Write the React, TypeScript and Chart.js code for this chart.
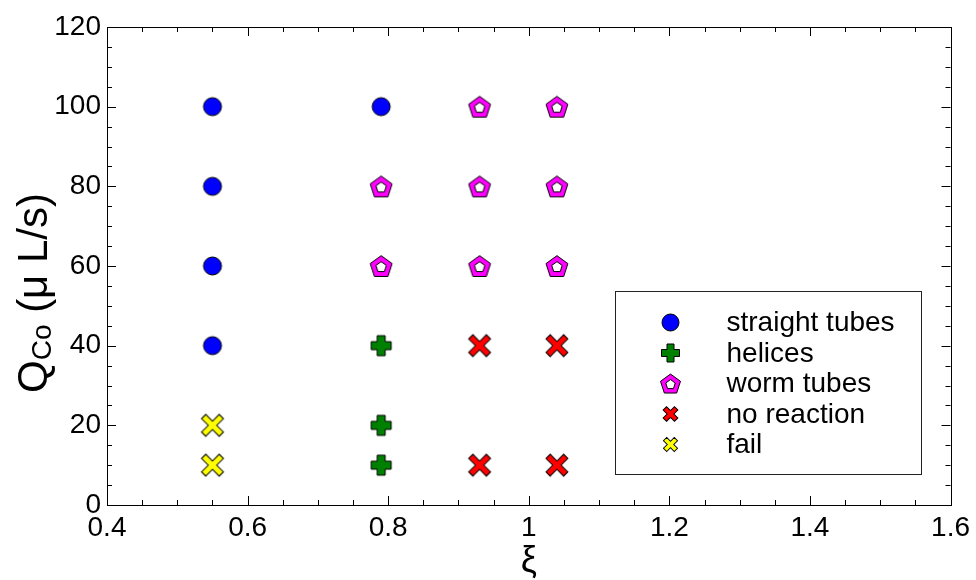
import React, { useEffect, useRef } from "react";
import { Chart, registerables } from "chart.js";

Chart.register(...registerables);

// ---- data ----
const seriesLabels = ["straight tubes", "helices", "worm tubes", "no reaction", "fail"];
const straightX = [0.55, 0.55, 0.55, 0.55, 0.79];
const straightY = [100, 80, 60, 40, 100];
const helicesX = [0.79, 0.79, 0.79];
const helicesY = [40, 20, 10];
const wormX = [0.93, 1.04, 0.79, 0.93, 1.04, 0.79, 0.93, 1.04];
const wormY = [100, 100, 80, 80, 80, 60, 60, 60];
const noReactionX = [0.93, 1.04, 0.93, 1.04];
const noReactionY = [40, 40, 10, 10];
const failX = [0.55, 0.55];
const failY = [20, 10];
const xTickValues = [0.4, 0.6, 0.8, 1.0, 1.2, 1.4, 1.6];
const yTickValues = [0, 20, 40, 60, 80, 100, 120];

const FONT = "'Liberation Sans', Arial, sans-serif";

function toPoints(xs: number[], ys: number[]) {
  return xs.map((x, i) => ({ x, y: ys[i] }));
}

function makeCanvas(size: number, draw: (ctx: CanvasRenderingContext2D) => void) {
  const c = document.createElement("canvas");
  c.width = size;
  c.height = size;
  const ctx = c.getContext("2d")!;
  ctx.translate(size / 2, size / 2);
  draw(ctx);
  return c;
}

function plusPath(ctx: CanvasRenderingContext2D, L: number, w: number) {
  const pts = [
    [w, L], [w, w], [L, w], [L, -w], [w, -w], [w, -L],
    [-w, -L], [-w, -w], [-L, -w], [-L, w], [-w, w], [-w, L],
  ];
  ctx.beginPath();
  pts.forEach(([x, y], i) => (i ? ctx.lineTo(x, y) : ctx.moveTo(x, y)));
  ctx.closePath();
}

function drawPlus(ctx: CanvasRenderingContext2D, L: number, w: number, fill: string) {
  plusPath(ctx, L, w);
  ctx.fillStyle = fill;
  ctx.fill();
  ctx.lineWidth = 1;
  ctx.strokeStyle = "#000";
  ctx.stroke();
}

function drawX(ctx: CanvasRenderingContext2D, L: number, w: number, fill: string) {
  ctx.save();
  ctx.rotate(Math.PI / 4);
  drawPlus(ctx, L, w, fill);
  ctx.restore();
}

function pentPath(ctx: CanvasRenderingContext2D, R: number, dy: number) {
  ctx.beginPath();
  for (let k = 0; k < 5; k++) {
    const a = -Math.PI / 2 + (k * 2 * Math.PI) / 5;
    const x = R * Math.cos(a);
    const y = R * Math.sin(a) + dy;
    k ? ctx.lineTo(x, y) : ctx.moveTo(x, y);
  }
  ctx.closePath();
}

function drawPentagon(ctx: CanvasRenderingContext2D, R: number, r: number) {
  const dy = R * 0.1;
  pentPath(ctx, R, dy);
  ctx.fillStyle = "#ff00ff";
  ctx.fill();
  ctx.lineWidth = 1;
  ctx.strokeStyle = "#000";
  ctx.stroke();
  pentPath(ctx, r, dy);
  ctx.fillStyle = "#ffffff";
  ctx.fill();
  ctx.stroke();
}

function drawCircle(ctx: CanvasRenderingContext2D, r: number) {
  ctx.beginPath();
  ctx.arc(0, 0, r, 0, Math.PI * 2);
  ctx.fillStyle = "#0000ff";
  ctx.fill();
  ctx.lineWidth = 1;
  ctx.strokeStyle = "#000";
  ctx.stroke();
}

const frameAndLegend = {
  id: "frameAndLegend",
  afterDraw(chart: any) {
    const { ctx, chartArea: a, scales } = chart;
    const xs = scales.x;
    const ys = scales.y;
    ctx.save();
    ctx.strokeStyle = "#000";
    ctx.lineWidth = 1;
    // frame
    ctx.strokeRect(Math.round(a.left) + 0.5, Math.round(a.top) + 0.5, Math.round(a.right - a.left), Math.round(a.bottom - a.top));
    // ticks on all four sides
    ctx.beginPath();
    for (let i = 0; i <= 24; i++) {
      const v = 0.4 + i * 0.05;
      const px = Math.round(xs.getPixelForValue(v)) + 0.5;
      const len = i % 4 === 0 ? 9 : 5;
      ctx.moveTo(px, a.bottom);
      ctx.lineTo(px, a.bottom - len);
      ctx.moveTo(px, a.top);
      ctx.lineTo(px, a.top + len);
    }
    for (let i = 0; i <= 24; i++) {
      const v = i * 5;
      const py = Math.round(ys.getPixelForValue(v)) + 0.5;
      const len = i % 4 === 0 ? 9 : 5;
      ctx.moveTo(a.left, py);
      ctx.lineTo(a.left + len, py);
      ctx.moveTo(a.right, py);
      ctx.lineTo(a.right - len, py);
    }
    ctx.stroke();

    // y title with subscript
    ctx.save();
    ctx.translate(47, (a.top + a.bottom) / 2 + 27);
    ctx.rotate(-Math.PI / 2);
    ctx.fillStyle = "#000";
    ctx.textBaseline = "alphabetic";
    ctx.textAlign = "left";
    const big = `42px ${FONT}`;
    const small = `28px ${FONT}`;
    ctx.font = big;
    const wQ = ctx.measureText("Q").width;
    const rest = " (\u03bc L/s)";
    const wR = ctx.measureText(rest).width;
    ctx.font = small;
    const wS = ctx.measureText("Co").width;
    const x0 = -(wQ + wS + wR) / 2;
    ctx.font = big;
    ctx.fillText("Q", x0, 0);
    ctx.font = small;
    ctx.fillText("Co", x0 + wQ, 4);
    ctx.font = big;
    ctx.fillText(rest, x0 + wQ + wS, 0);
    ctx.restore();

    // legend
    const bx = Math.round(a.right - 336) + 0.5;
    const by = Math.round(a.bottom - 214) + 0.5;
    ctx.fillStyle = "#fff";
    ctx.fillRect(bx, by, 306, 183);
    ctx.strokeStyle = "#222";
    ctx.strokeRect(bx, by, 306, 183);
    const drawers = [
      (c: CanvasRenderingContext2D) => drawCircle(c, 8.5),
      (c: CanvasRenderingContext2D) => drawPlus(c, 9, 3.5, "#008000"),
      (c: CanvasRenderingContext2D) => drawPentagon(c, 10.5, 5),
      (c: CanvasRenderingContext2D) => drawX(c, 8, 2.4, "#ff0000"),
      (c: CanvasRenderingContext2D) => drawX(c, 7.6, 2.3, "#ffff00"),
    ];
    ctx.font = `28px ${FONT}`;
    ctx.textBaseline = "middle";
    ctx.textAlign = "left";
    seriesLabels.forEach((lab, i) => {
      const cy = by + 31 + i * 30.5;
      ctx.save();
      ctx.translate(bx + 55, cy);
      drawers[i](ctx);
      ctx.restore();
      ctx.fillStyle = "#000";
      ctx.fillText(lab, bx + 111, cy + 1);
    });
    ctx.restore();
  },
};

export default function App() {
  const ref = useRef<HTMLCanvasElement | null>(null);
  useEffect(() => {
    if (!ref.current) return;
    const circle = makeCanvas(24, (c) => drawCircle(c, 9));
    const plus = makeCanvas(26, (c) => drawPlus(c, 10, 4, "#008000"));
    const pent = makeCanvas(30, (c) => drawPentagon(c, 11.5, 5.5));
    const xRed = makeCanvas(30, (c) => drawX(c, 12.5, 3, "#ff0000"));
    const xYellow = makeCanvas(30, (c) => drawX(c, 12.5, 3, "#ffff00"));
    const mk = (label: string, xs: number[], ys: number[], style: any) => ({
      label,
      data: toPoints(xs, ys),
      pointStyle: style,
      pointRadius: 10,
      backgroundColor: "#000",
      borderColor: "#000",
      showLine: false,
    });
    const chart = new Chart(ref.current, {
      type: "scatter",
      data: {
        datasets: [
          mk(seriesLabels[0], straightX, straightY, circle),
          mk(seriesLabels[1], helicesX, helicesY, plus),
          mk(seriesLabels[2], wormX, wormY, pent),
          mk(seriesLabels[3], noReactionX, noReactionY, xRed),
          mk(seriesLabels[4], failX, failY, xYellow),
        ],
      },
      options: {
        animation: false,
        responsive: true,
        maintainAspectRatio: false,
        layout: { padding: { top: 27, right: 23, left: 0, bottom: 0 } },
        plugins: { legend: { display: false }, tooltip: { enabled: false } },
        scales: {
          x: {
            type: "linear",
            min: 0.4,
            max: 1.6,
            afterBuildTicks: (s: any) => {
              s.ticks = xTickValues.map((v) => ({ value: v }));
            },
            afterFit: (s: any) => {
              s.height = 75;
            },
            grid: { display: false, drawTicks: false },
            border: { display: false },
            ticks: {
              color: "#000",
              font: { family: FONT, size: 28 },
              padding: 6,
              maxRotation: 0,
              autoSkip: false,
              callback: (v: any) => String(Math.round(Number(v) * 10) / 10),
            },
            title: {
              display: true,
              text: "\u03be",
              color: "#000",
              font: { family: FONT, size: 36 },
              padding: { top: 0, bottom: -4 },
            },
          },
          y: {
            type: "linear",
            min: 0,
            max: 120,
            afterBuildTicks: (s: any) => {
              s.ticks = yTickValues.map((v) => ({ value: v }));
            },
            afterFit: (s: any) => {
              s.width = 107;
            },
            grid: { display: false, drawTicks: false },
            border: { display: false },
            ticks: {
              color: "#000",
              font: { family: FONT, size: 28 },
              padding: 6,
              autoSkip: false,
            },
            title: { display: false },
          },
        },
      },
      plugins: [frameAndLegend],
    });
    return () => chart.destroy();
  }, []);
  return (
    <div style={{ position: "absolute", left: 0, top: 0, width: 976, height: 580, background: "#fff" }}>
      <canvas ref={ref} />
    </div>
  );
}
